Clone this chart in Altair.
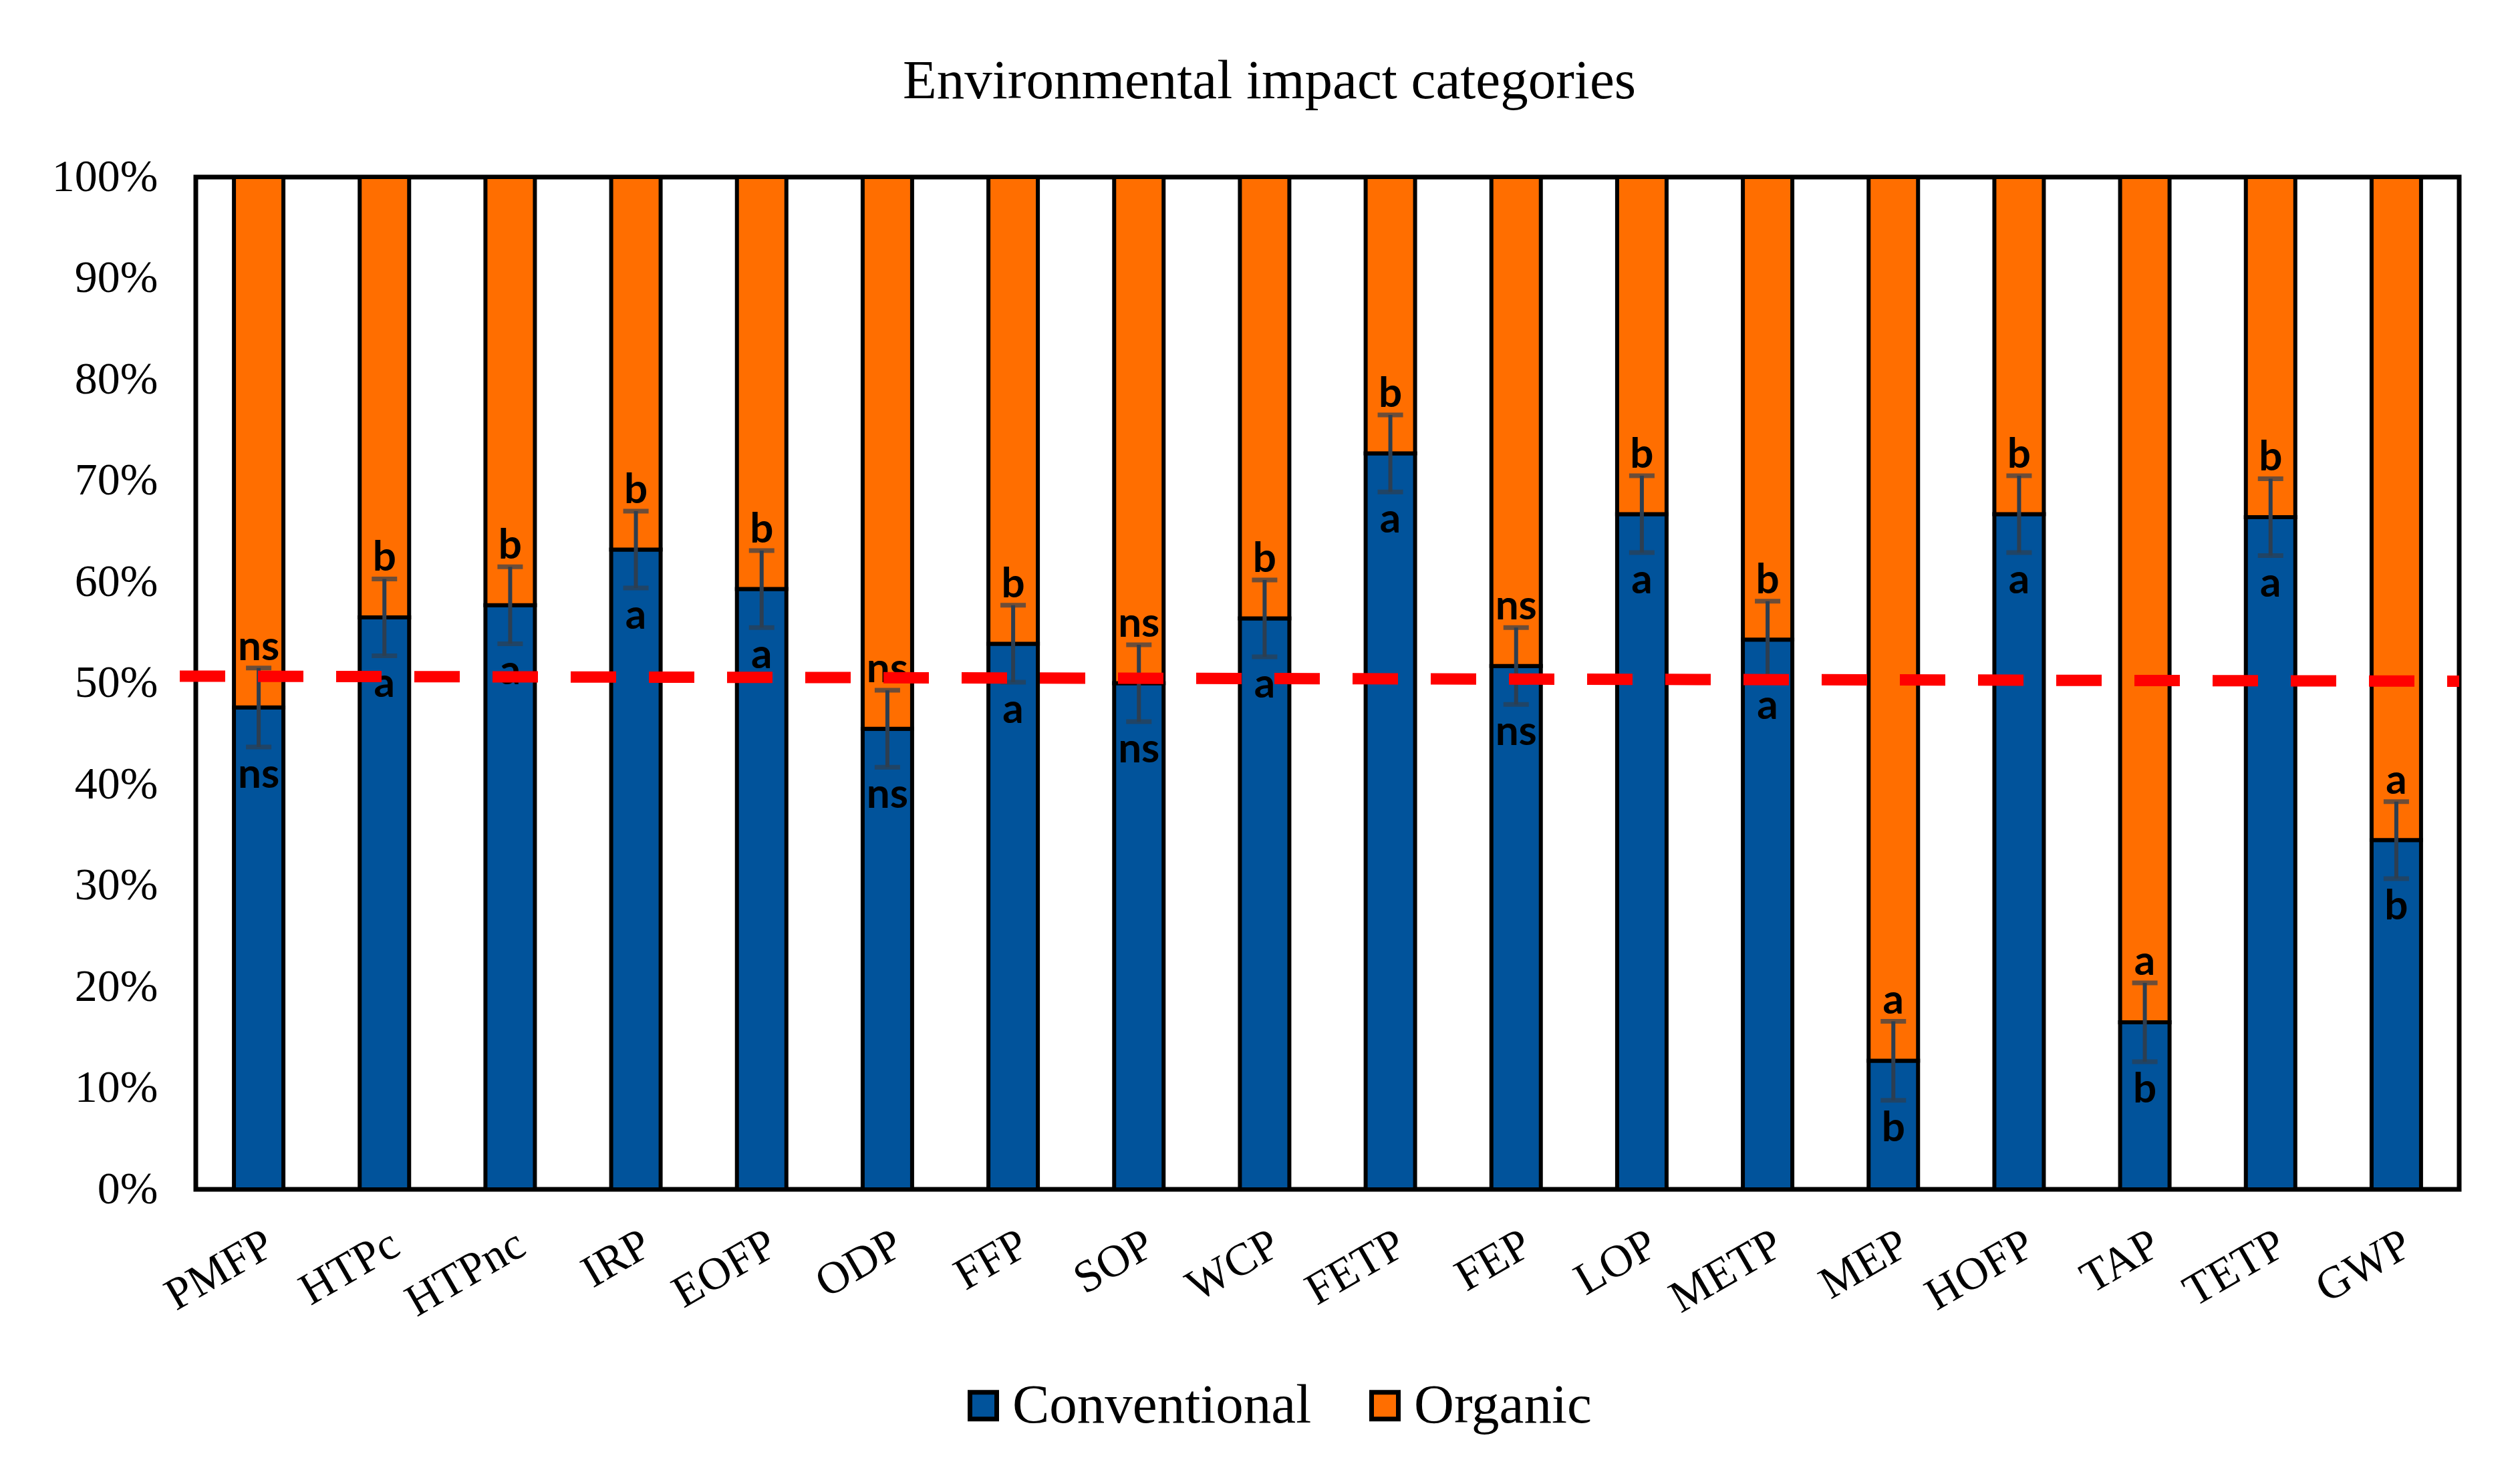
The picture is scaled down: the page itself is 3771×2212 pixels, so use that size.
import altair as alt
import pandas as pd

categories = ["PMFP", "HTPc", "HTPnc", "IRP", "EOFP", "ODP", "FFP", "SOP", "WCP",
              "FETP", "FEP", "LOP", "METP", "MEP", "HOFP", "TAP", "TETP", "GWP"]
conventional = [47.6, 56.5, 57.7, 63.2, 59.3, 45.5, 53.9, 50.0, 56.4,
                72.7, 51.7, 66.7, 54.3, 12.7, 66.7, 16.5, 66.4, 34.5]
error = [3.9, 3.8, 3.8, 3.8, 3.8, 3.8, 3.8, 3.8, 3.8,
         3.8, 3.8, 3.8, 3.8, 3.9, 3.8, 3.9, 3.8, 3.8]
organic_letters = ["ns", "b", "b", "b", "b", "ns", "b", "ns", "b",
                   "b", "ns", "b", "b", "a", "b", "a", "b", "a"]
conventional_letters = ["ns", "a", "a", "a", "a", "ns", "a", "ns", "a",
                        "a", "ns", "a", "a", "b", "a", "b", "a", "b"]
series_names = ["Conventional", "Organic"]
series_colors = ["#01539B", "#FF6E00"]
y_ticks = [0, 10, 20, 30, 40, 50, 60, 70, 80, 90, 100]
reference_line = [50.7, 50.2]  # left end, right end
title_text = "Environmental impact categories"

rows = []
for c, v in zip(categories, conventional):
    rows.append({"cat": c, "series": "Conventional", "start": 0.0, "end": v})
    rows.append({"cat": c, "series": "Organic", "start": v, "end": 100.0})
bar_df = pd.DataFrame(rows)

err_df = pd.DataFrame({
    "cat": categories,
    "lo": [v - e for v, e in zip(conventional, error)],
    "hi": [v + e for v, e in zip(conventional, error)],
    "top_lab": organic_letters,
    "bot_lab": conventional_letters,
})
line_df = pd.DataFrame({"ya": [reference_line[0]], "yb": [reference_line[1]]})

W, H = 3387, 1515
SERIF = "Liberation Serif"
ERRC = "#2D3E50"

x_enc = alt.X(
    "cat:N", sort=categories, title=None,
    scale=alt.Scale(type="band", paddingInner=0.1, paddingOuter=0.05),
    axis=alt.Axis(labelAngle=-30, labelAlign="right", labelBaseline="top",
                  labelFont=SERIF, labelFontSize=68, labelColor="black",
                  labelPadding=48, ticks=False, domain=False, grid=False,
                  labelOverlap=False, labelFlush=False, labelLimit=1000),
)
y_scale = alt.Scale(domain=[0, 100], nice=False)

bars = alt.Chart(bar_df).mark_bar(stroke="black", strokeWidth=6, size=74).encode(
    x=x_enc,
    y=alt.Y("start:Q", scale=y_scale, title=None,
            axis=alt.Axis(values=y_ticks, labelExpr="datum.value + '%'",
                          labelFont=SERIF, labelFontSize=68, labelColor="black",
                          labelPadding=57, ticks=False, domain=False, grid=False)),
    y2="end:Q",
    color=alt.Color("series:N",
                    scale=alt.Scale(domain=series_names, range=series_colors),
                    legend=alt.Legend(title=None, orient="none", direction="horizontal",
                                      legendX=1137, legendY=1797,
                                      symbolType="square", symbolSize=1600,
                                      symbolStrokeColor="black", symbolStrokeWidth=7,
                                      symbolOpacity=1,
                                      labelFont=SERIF, labelFontSize=83, labelColor="black",
                                      labelOffset=2, columnPadding=68, padding=0,
                                      labelLimit=1000)),
    order=alt.Order("series:N"),
)

err_rule = alt.Chart(err_df).mark_rule(color=ERRC, strokeWidth=6).encode(
    x=alt.X("cat:N", sort=categories), y="lo:Q", y2="hi:Q")
cap_lo = alt.Chart(err_df).mark_tick(color=ERRC, size=38, thickness=7,
                                     orient="horizontal").encode(
    x=alt.X("cat:N", sort=categories), y="lo:Q")
cap_hi = alt.Chart(err_df).mark_tick(color=ERRC, size=38, thickness=7,
                                     orient="horizontal").encode(
    x=alt.X("cat:N", sort=categories), y="hi:Q")

top_text = alt.Chart(err_df).mark_text(
    font="Lato", fontWeight="bold", fontSize=62, color="black",
    baseline="alphabetic", dy=-12).encode(
    x=alt.X("cat:N", sort=categories), y="hi:Q", text="top_lab:N")
bot_text = alt.Chart(err_df).mark_text(
    font="Lato", fontWeight="bold", fontSize=62, color="black",
    baseline="top", dy=12).encode(
    x=alt.X("cat:N", sort=categories), y="lo:Q", text="bot_lab:N")

red = alt.Chart(line_df).mark_rule(color="#FF0000", strokeWidth=17,
                                   strokeDash=[68, 49]).encode(
    x=alt.value(-24), x2=alt.value(W), y="ya:Q", y2="yb:Q")

chart = alt.layer(bars, err_rule, cap_lo, cap_hi, top_text, bot_text, red).properties(
    width=W, height=H,
    title=alt.TitleParams(title_text, font=SERIF, fontSize=83, fontWeight="normal",
                          color="black", anchor="middle", dx=-87, offset=1,
                          baseline="alphabetic"),
    autosize=alt.AutoSizeParams(type="none"),
    padding={"left": 285, "top": 257, "right": 83, "bottom": 424},
    background="white",
).configure_view(stroke="black", strokeWidth=7, fill="white")

chart.save("out.html", embed_options={"renderer": "svg", "actions": False})
